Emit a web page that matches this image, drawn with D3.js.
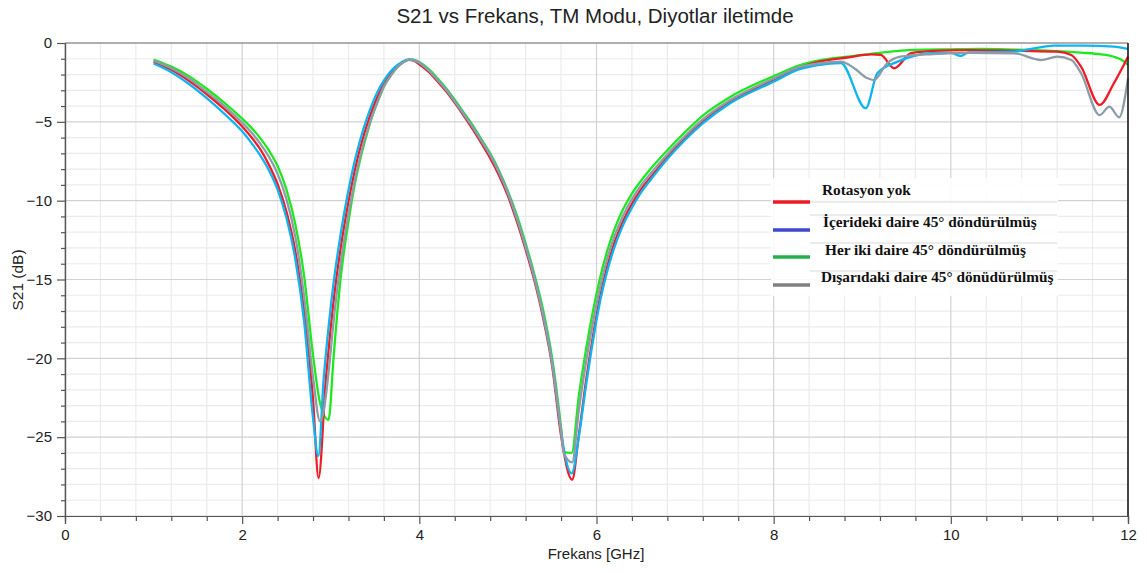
<!DOCTYPE html>
<html><head><meta charset="utf-8">
<script src="https://cdn.jsdelivr.net/npm/d3@7"></script>
<style>body{margin:0;background:#fff}svg{display:block}</style>
</head><body>
<svg id="chart" width="1147" height="573"></svg>
<script>
// ---- data ----
const titleText = "S21 vs Frekans, TM Modu, Diyotlar iletimde";
const xLabel = "Frekans [GHz]";
const yLabel = "S21 (dB)";
const xTicks = [0, 2, 4, 6, 8, 10, 12];
const yTicks = [0, -5, -10, -15, -20, -25, -30];
const seriesNames = ["Rotasyon yok", "İçerideki daire 45° döndürülmüş", "Her iki daire 45° döndürülmüş", "Dışarıdaki daire 45° dönüdürülmüş"];

const freqRed = [1.0,1.2,1.4,1.6,1.8,2.0,2.1,2.2,2.3,2.4,2.5,2.6,2.7,2.8,2.862,2.945,2.995,3.055,3.115,3.175,3.235,3.295,3.355,3.435,3.505,3.585,3.665,3.74,3.815,3.88,3.95,4.0,4.1,4.2,4.3,4.4,4.5,4.6,4.7,4.8,4.9,5.0,5.1,5.2,5.3,5.4,5.5,5.6,5.725,5.8,5.88,5.96,6.04,6.12,6.2,6.3,6.4,6.5,6.6,6.8,7.0,7.2,7.5,8.0,8.3,8.5,8.83,9.1,9.21,9.36,9.55,9.8,10.2,10.8,11.2,11.36,11.47,11.68,11.84,12.0];
const s21Red  = [-1.2,-1.7,-2.4,-3.25,-4.2,-5.3,-5.95,-6.7,-7.7,-8.95,-10.7,-13.2,-17.0,-22.6,-27.6,-21.3,-18.3,-15.3,-12.9,-10.85,-9.05,-7.5,-6.2,-4.75,-3.7,-2.75,-2.05,-1.55,-1.22,-1.07,-1.15,-1.35,-1.8,-2.4,-3.05,-3.8,-4.6,-5.45,-6.35,-7.3,-8.4,-9.7,-11.3,-13.1,-15.1,-17.5,-20.5,-24.9,-27.7,-24.9,-21.5,-18.6,-16.1,-14.2,-12.7,-11.3,-10.2,-9.3,-8.6,-7.25,-6.05,-5.0,-3.75,-2.35,-1.55,-1.2,-0.92,-0.72,-0.76,-1.6,-0.65,-0.5,-0.45,-0.5,-0.55,-0.76,-1.5,-3.93,-2.56,-0.87];

const freqBlue = [1.0,1.2,1.4,1.6,1.8,2.0,2.1,2.2,2.3,2.4,2.5,2.6,2.7,2.8,2.86,2.92,2.97,3.03,3.09,3.15,3.21,3.27,3.33,3.41,3.48,3.56,3.64,3.72,3.8,3.87,3.92,4.0,4.1,4.2,4.3,4.4,4.5,4.6,4.7,4.8,4.9,5.0,5.1,5.2,5.3,5.4,5.5,5.6,5.63,5.72,5.8,5.88,5.96,6.04,6.12,6.2,6.3,6.4,6.5,6.6,6.8,7.0,7.2,7.5,8.0,8.3,8.5,8.757,9.04,9.17,9.4,9.77,10.0,10.11,10.2,10.71,10.94,11.16,11.5,11.84,12.0];
const s21Blue  = [-1.3,-1.85,-2.6,-3.5,-4.5,-5.6,-6.3,-7.1,-8.05,-9.3,-11.1,-13.7,-17.7,-23.8,-26.2,-21.3,-18.3,-15.3,-12.9,-10.85,-9.05,-7.5,-6.2,-4.75,-3.7,-2.75,-2.05,-1.55,-1.22,-1.05,-1.06,-1.25,-1.7,-2.3,-2.95,-3.7,-4.5,-5.3,-6.2,-7.1,-8.2,-9.5,-11.1,-12.9,-14.9,-17.3,-20.3,-24.6,-25.7,-27.3,-25.0,-21.8,-18.9,-16.4,-14.5,-13.0,-11.55,-10.45,-9.5,-8.75,-7.35,-6.15,-5.1,-3.85,-2.45,-1.65,-1.4,-1.27,-4.14,-1.92,-1.18,-0.65,-0.62,-0.82,-0.6,-0.55,-0.34,-0.17,-0.17,-0.23,-0.38];

const freqGreen = [1.0,1.2,1.4,1.6,1.8,2.0,2.1,2.2,2.3,2.4,2.5,2.6,2.7,2.8,2.88,2.975,3.03,3.075,3.11,3.16,3.215,3.27,3.33,3.39,3.465,3.535,3.605,3.68,3.75,3.82,3.89,3.95,4.0,4.1,4.2,4.3,4.4,4.5,4.6,4.7,4.8,4.9,5.0,5.1,5.2,5.3,5.4,5.5,5.6,5.63,5.72,5.8,5.88,5.96,6.04,6.12,6.2,6.3,6.4,6.5,6.6,6.8,7.0,7.2,7.5,8.0,8.3,8.5,8.83,9.2,9.59,10.0,10.34,10.7,11.09,11.47,11.7,11.84,11.95,12.0];
const s21Green  = [-1.05,-1.5,-2.1,-2.9,-3.8,-4.8,-5.35,-6.0,-6.8,-7.8,-9.3,-11.5,-14.8,-19.8,-22.85,-23.9,-20.1,-17.0,-15.0,-12.8,-10.8,-9.0,-7.45,-6.15,-4.7,-3.65,-2.72,-2.03,-1.53,-1.2,-1.04,-1.08,-1.2,-1.62,-2.2,-2.85,-3.6,-4.4,-5.2,-6.1,-7.0,-8.1,-9.4,-10.9,-12.7,-14.7,-17.0,-20.0,-24.4,-25.95,-26.0,-22.4,-19.5,-17.0,-14.9,-13.2,-11.85,-10.55,-9.55,-8.75,-8.05,-6.8,-5.65,-4.6,-3.45,-2.1,-1.4,-1.12,-0.87,-0.62,-0.44,-0.4,-0.38,-0.42,-0.49,-0.61,-0.72,-0.87,-1.15,-1.4];

const freqGray = [1.0,1.2,1.4,1.6,1.8,2.0,2.1,2.2,2.3,2.4,2.5,2.6,2.7,2.8,2.88,2.99,3.02,3.08,3.14,3.2,3.26,3.32,3.38,3.46,3.53,3.6,3.68,3.75,3.82,3.88,3.95,4.0,4.1,4.2,4.3,4.4,4.5,4.6,4.7,4.8,4.9,5.0,5.1,5.2,5.3,5.4,5.5,5.6,5.63,5.725,5.8,5.88,5.96,6.04,6.12,6.2,6.3,6.4,6.5,6.6,6.8,7.0,7.2,7.5,8.0,8.3,8.5,8.757,8.91,9.06,9.13,9.28,9.43,9.8,10.2,10.71,11.02,11.2,11.36,11.47,11.68,11.79,11.9,12.0];
const s21Gray  = [-1.12,-1.6,-2.25,-3.1,-4.0,-5.05,-5.65,-6.35,-7.2,-8.3,-9.9,-12.3,-16.1,-21.2,-24.0,-20.1,-18.3,-15.3,-12.9,-10.85,-9.05,-7.5,-6.2,-4.75,-3.7,-2.75,-2.05,-1.55,-1.22,-1.07,-1.12,-1.25,-1.7,-2.3,-2.95,-3.7,-4.5,-5.3,-6.2,-7.1,-8.2,-9.5,-11.1,-12.9,-14.9,-17.3,-20.3,-24.6,-26.0,-26.6,-23.3,-20.3,-17.7,-15.5,-13.7,-12.3,-10.95,-9.9,-9.05,-8.35,-7.05,-5.9,-4.85,-3.65,-2.25,-1.5,-1.3,-1.18,-1.6,-2.24,-2.35,-1.29,-0.87,-0.7,-0.62,-0.65,-1.08,-0.87,-1.08,-1.92,-4.57,-4.04,-4.71,-2.24];

// ---- layout ----
const svg = d3.select("#chart");
const L = 65, R = 1128, T = 43, B = 516;
const x = d3.scaleLinear().domain([0, 12]).range([L, R]);
const y = d3.scaleLinear().domain([-30, 0]).range([B, T]);

// grid
const g = svg.append("g");
const minorX = d3.range(0, 12.001, 0.4).filter(v => Math.abs(v/2 - Math.round(v/2)) > 1e-6);
const minorY = d3.range(-30, 0.001, 1).filter(v => v % 5 !== 0);
g.selectAll(".mx").data(minorX).join("line")
  .attr("x1", d => x(d)).attr("x2", d => x(d)).attr("y1", T).attr("y2", B)
  .attr("stroke", "#ebebeb").attr("stroke-width", 1.2);
g.selectAll(".my").data(minorY).join("line")
  .attr("x1", L).attr("x2", R).attr("y1", d => y(d)).attr("y2", d => y(d))
  .attr("stroke", "#ebebeb").attr("stroke-width", 1.2);
g.selectAll(".Mx").data(xTicks).join("line")
  .attr("x1", d => x(d)).attr("x2", d => x(d)).attr("y1", T).attr("y2", B)
  .attr("stroke", "#d2d2d2").attr("stroke-width", 1.2);
g.selectAll(".My").data(yTicks).join("line")
  .attr("x1", L).attr("x2", R).attr("y1", d => y(d)).attr("y2", d => y(d))
  .attr("stroke", "#d2d2d2").attr("stroke-width", 1.2);

// curves
const line = d3.line().x(d => x(d[0])).y(d => y(d[1])).curve(d3.curveMonotoneX);
const curves = [
  {f: freqGreen, v: s21Green, c: "#1ee81e"},
  {f: freqRed, v: s21Red, c: "#ee1c25"},
  {f: freqBlue, v: s21Blue, c: "#10b4f0"},
  {f: freqGray, v: s21Gray, c: "#8c9ca8"}
];
curves.forEach(s => {
  svg.append("path").datum(s.f.map((f, i) => [f, s.v[i]]))
    .attr("d", line).attr("fill", "none").attr("stroke", s.c)
    .attr("stroke-width", 2.3).attr("stroke-linejoin", "round");
});

// axes
const fontSans = "'Liberation Sans', Arial, sans-serif";
const yAxisMinor = d3.axisLeft(y).tickValues(minorY).tickSize(4).tickFormat("");
const yAxis = d3.axisLeft(y).tickValues(yTicks).tickSize(8).tickPadding(5).tickFormat(d3.format("d"));
const xAxisMinor = d3.axisBottom(x).tickValues(minorX).tickSize(5).tickFormat("");
const xAxis = d3.axisBottom(x).tickValues(xTicks).tickSize(8).tickPadding(5).tickFormat(d3.format("d"));
function styleAxis(sel) {
  sel.selectAll("path,line").attr("stroke", "#555").attr("stroke-width", 1.2);
  sel.selectAll("text").attr("fill", "#222").style("font-family", fontSans).style("font-size", "15px");
}
svg.append("g").attr("transform", `translate(${L},0)`).call(yAxisMinor).call(styleAxis);
svg.append("g").attr("transform", `translate(${L},0)`).call(yAxis).call(styleAxis);
svg.append("g").attr("transform", `translate(0,${B})`).call(xAxisMinor).call(styleAxis);
svg.append("g").attr("transform", `translate(0,${B})`).call(xAxis).call(styleAxis);
svg.selectAll(".domain").attr("stroke", "#555");
// top and right borders
svg.append("line").attr("x1", L).attr("x2", R).attr("y1", T).attr("y2", T).attr("stroke", "#777").attr("stroke-width", 1.2);
svg.append("line").attr("x1", R).attr("x2", R).attr("y1", T).attr("y2", B).attr("stroke", "#111").attr("stroke-width", 1.5);

// titles
svg.append("text").attr("x", 595).attr("y", 23).attr("text-anchor", "middle")
  .style("font-family", fontSans).style("font-size", "20.5px").attr("fill", "#222").text(titleText);
svg.append("text").attr("x", 596).attr("y", 559).attr("text-anchor", "middle")
  .style("font-family", fontSans).style("font-size", "15px").attr("fill", "#222").text(xLabel);
svg.append("text").attr("transform", "translate(23,280) rotate(-90)").attr("text-anchor", "middle")
  .style("font-family", fontSans).style("font-size", "15.5px").attr("fill", "#222").text(yLabel);

// legend
const legendColors = ["#ed1c24", "#3f48cc", "#22b14c", "#808080"];
const lg = svg.append("g");
lg.append("rect").attr("x", 771).attr("y", 178).attr("width", 287).attr("height", 118)
  .attr("fill", "#fff").attr("opacity", 0.88);
[202, 215, 243, 271].forEach(yy => lg.append("line").attr("x1", 810).attr("x2", 1057)
  .attr("y1", yy).attr("y2", yy).attr("stroke", "#d8d8d8").attr("stroke-width", 1));
const legLineY = [202, 230, 257, 285];
const legTextY = [195, 227, 255, 282];
const legTextX = [822, 823, 825, 821];
seriesNames.forEach((n, i) => {
  lg.append("line").attr("x1", 773).attr("x2", 810).attr("y1", legLineY[i]).attr("y2", legLineY[i])
    .attr("stroke", legendColors[i]).attr("stroke-width", 3.5);
  lg.append("text").attr("x", legTextX[i]).attr("y", legTextY[i])
    .style("font-family", "'Liberation Serif', 'Times New Roman', serif").style("font-weight", "bold")
    .style("font-size", "15.3px").attr("fill", "#111").text(n);
});
</script>
</body></html>
